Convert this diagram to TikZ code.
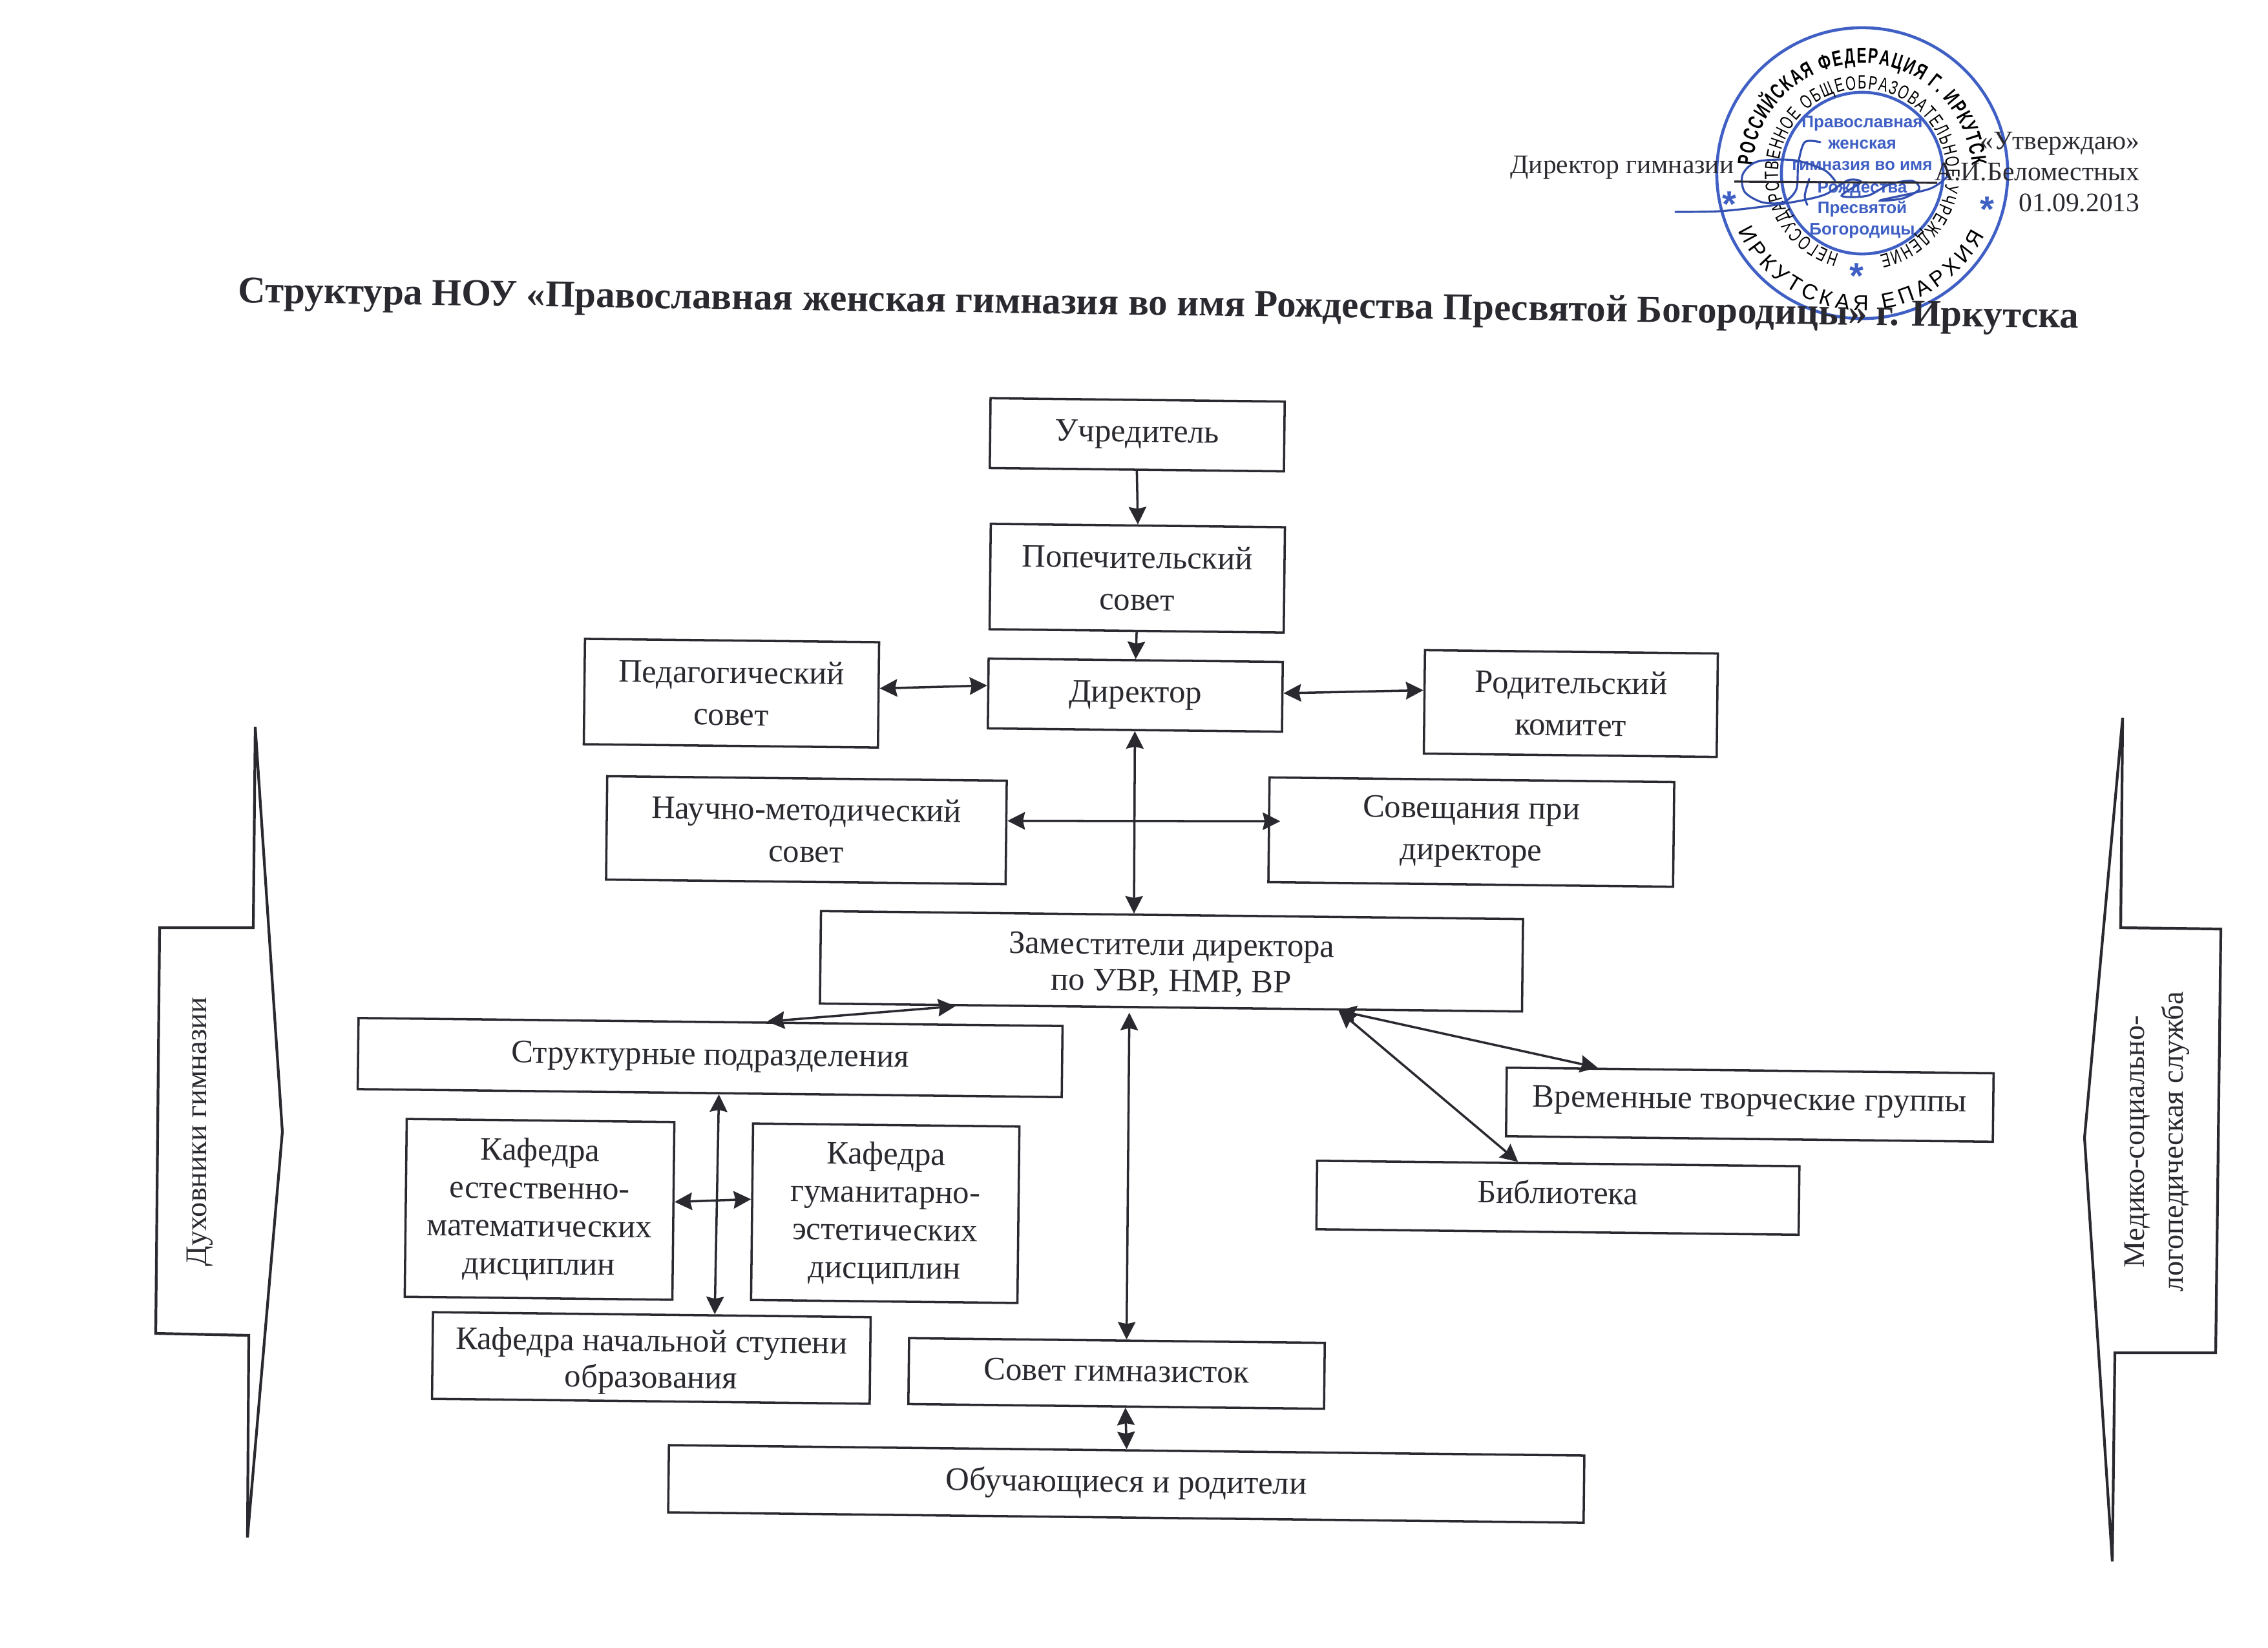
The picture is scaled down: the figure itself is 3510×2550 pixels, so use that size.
\documentclass[tikz,border=0pt]{standalone}
\usepackage{fontspec}
\setmainfont{Liberation Serif}
\newfontfamily\stampfont{Liberation Sans}
\newfontfamily\stampnarrow{Liberation Sans}[FakeStretch=0.68]
\usetikzlibrary{calc,arrows.meta,decorations.text}
\definecolor{ink}{HTML}{2B2930}
\definecolor{stampblue}{HTML}{3F5FC4}
\definecolor{signblue}{HTML}{3350B0}
\newcommand{\liftup}[1]{\rule[-#1]{0pt}{#1}}
\newcommand{\pushdown}[1]{\rule{0pt}{#1}}
\tikzset{
  box/.style={draw=ink,line width=1pt,text=ink,rotate=-0.65,align=center,inner sep=0pt,
    font=\fontsize{14.4}{18.5}\selectfont},
  tightbox/.style={box,font=\fontsize{14.4}{16}\selectfont},
  kafbox/.style={box,font=\fontsize{14.4}{16.7}\selectfont},
  link/.style={draw=ink,line width=1pt,
    {Stealth[length=0.27cm,width=0.27cm,inset=0.03cm]}-{Stealth[length=0.27cm,width=0.27cm,inset=0.03cm]}},
  onelink/.style={draw=ink,line width=1pt,-{Stealth[length=0.27cm,width=0.27cm,inset=0.03cm]}},
  sideshape/.style={draw=ink,line width=1.2pt,line join=miter},
  sidetext/.style={text=ink,align=center,inner sep=0pt,
    font=\fontsize{13.2}{17}\selectfont},
  toptext/.style={text=ink,inner sep=0pt,font=\fontsize{11.8}{14}\selectfont},
  ring/.style={draw=stampblue,line width=1.3pt},
  stamparc/.style={decorate,text=stampblue},
  stampline/.style={text=stampblue,inner sep=0pt,font=\stampfont\bfseries\fontsize{7.4}{9}\selectfont},
  stampstar/.style={text=stampblue,inner sep=0pt,font=\stampfont\bfseries\fontsize{16}{16}\selectfont},
  signature/.style={draw=signblue,line width=0.9pt,line cap=round}
}
\begin{document}
\begin{tikzpicture}[x=0.01cm,y=-0.01cm]

    \useasboundingbox (0,0) rectangle (3510,2550);

    \begin{scope}[shift={(2882,268)},x=1cm,y=1cm]

      \draw[ring] (0,0) circle (2.25);
      \draw[ring] (0,0) circle (1.25);

      \path[stamparc,decoration={text along path,text align=fit to path,
        text={|\stampnarrow\bfseries\fontsize{9.5}{10}\selectfont|РОССИЙСКАЯ ФЕДЕРАЦИЯ Г. ИРКУТСК}}]
      (176:1.7) arc[start angle=176,end angle=4,radius=1.7];

      \path[stamparc,decoration={text along path,text align=fit to path,
        text={|\stampfont\fontsize{9.5}{10}\selectfont|ИРКУТСКАЯ ЕПАРХИЯ}}]
      (205:2.12) arc[start angle=205,end angle=333,radius=2.12];

      \path[stamparc,decoration={text along path,text align=fit to path,
        text={|\stampnarrow\fontsize{8.5}{9}\selectfont|НЕГОСУДАРСТВЕННОЕ ОБЩЕОБРАЗОВАТЕЛЬНОЕ УЧРЕЖДЕНИЕ}}]
      (254:1.3) arc[start angle=254,end angle=-78,radius=1.3];

      \node[stampstar] (starleft) at (-2.05,-0.48) {*};
      \node[stampstar] (starright) at (1.93,-0.56) {*};
      \node[stampstar] (starbottom) at (-0.09,-1.59) {*};

      \node[stampline] (st1) at (0,0.77) {Православная};
      \node[stampline] (st2) at (0,0.44) {женская};
      \node[stampline] (st3) at (0,0.11) {гимназия во имя};
      \node[stampline] (st4) at (0,-0.24) {Рождества};
      \node[stampline] (st5) at (0,-0.55) {Пресвятой};
      \node[stampline] (st6) at (0,-0.89) {Богородицы};

    \end{scope}

    \draw[signature] plot[smooth] coordinates {(2593,328) (2660,327) (2727,320) (2790,310)
      (2827,300) (2860,279) (2880,282) (2850,303) (2890,303) (2925,285) (2960,280)
      (2970,293) (2945,307) (2910,310) (2987,292) (3017,270)};
    \draw[signature] plot[smooth] coordinates {(2817,220) (2793,220) (2783,253) (2780,293)
      (2760,313) (2727,313) (2700,297) (2697,270) (2720,250) (2777,248) (2823,263) (2840,280)};
    \draw[signature] plot[smooth] coordinates {(2800,277) (2793,303) (2797,317)};

    \node[toptext,anchor=base east] (utv) at (3312,231) {«Утверждаю»};
    \node[toptext,anchor=base east] (dirname) at (3312,279) {А.И.Беломестных};
    \node[toptext,anchor=base east] (datum) at (3312,327) {01.09.2013};
    \node[toptext,anchor=base east] (dirpost) at (2684,268) {Директор гимназии};
    \draw[draw=ink,line width=0.9pt] (dirpost.base east) ++(0,13) -- ++(314,2);

    \node[text=ink,inner sep=0pt,rotate=-0.8,font=\bfseries\fontsize{16.7}{20}\selectfont] (title)
    at (1793,474) {Структура НОУ «Православная женская гимназия во имя Рождества Пресвятой Богородицы» г. Иркутска};

    \node[box,minimum width=4.55cm,minimum height=1.08cm] (uchred) at (1760,673) {Учредитель};
    \node[box,minimum width=4.55cm,minimum height=1.63cm] (popech) at (1760,895) {Попечительский\\совет};
    \node[box,minimum width=4.55cm,minimum height=1.08cm] (direktor) at (1757,1076) {Директор};
    \node[box,minimum width=4.55cm,minimum height=1.63cm] (pedsovet) at (1132,1073) {Педагогический\\совет};
    \node[box,minimum width=4.53cm,minimum height=1.60cm] (roditel) at (2431,1089) {Родительский\\комитет};
    \node[box,minimum width=6.18cm,minimum height=1.60cm] (nauchno) at (1248,1285) {Научно-методический\\совет};
    \node[box,minimum width=6.26cm,minimum height=1.62cm] (soveshch) at (2277,1288) {Совещания при\\директоре};
    \node[tightbox,minimum width=10.86cm,minimum height=1.43cm] (zam) at (1813,1488) {\pushdown{0.45cm}Заместители директора\\по УВР, НМР, ВР};
    \node[box,minimum width=10.89cm,minimum height=1.10cm] (struct) at (1099,1637) {Структурные подразделения};
    \node[kafbox,minimum width=4.14cm,minimum height=2.75cm] (kafest) at (835,1872) {Кафедра\\естественно-\\математических\\дисциплин};
    \node[kafbox,minimum width=4.12cm,minimum height=2.73cm] (kafgum) at (1370,1878) {Кафедра\\гуманитарно-\\эстетических\\дисциплин};
    \node[tightbox,minimum width=6.77cm,minimum height=1.34cm] (kafnach) at (1008,2102) {\pushdown{0.47cm}Кафедра начальной ступени\\образования};
    \node[box,minimum width=6.43cm,minimum height=1.02cm] (sovet) at (1728,2126) {\liftup{0.09cm}Совет гимназисток};
    \node[box,minimum width=14.16cm,minimum height=1.04cm] (obuch) at (1743,2297) {Обучающиеся и родители};
    \node[box,minimum width=7.53cm,minimum height=1.06cm] (vremen) at (2708,1710) {\liftup{0.19cm}Временные творческие группы};
    \node[box,minimum width=7.46cm,minimum height=1.06cm] (biblio) at (2411,1854) {\liftup{0.18cm}Библиотека};

    \draw[onelink] (uchred.south) -- (popech.north);
    \draw[onelink] (popech.south) -- (direktor.north);
    \draw[link] ($(pedsovet.north east)!.44!(pedsovet.south east)$) -- ($(direktor.north west)!.39!(direktor.south west)$);
    \draw[link] ($(direktor.north east)!.45!(direktor.south east)$) -- ($(roditel.north west)!.39!(roditel.south west)$);
    \draw[link] (direktor.south) -- ($(zam.north west)!.446!(zam.north east)$);
    \draw[link,shorten >=-0.19cm] ($(nauchno.north east)!.39!(nauchno.south east)$) -- ($(soveshch.north west)!.42!(soveshch.south west)$);
    \draw[link] ($(zam.south west)!.194!(zam.south east)$) -- ($(struct.north west)!.58!(struct.north east)$);
    \draw[link,shorten <=0.07cm] ($(zam.south west)!.441!(zam.south east)$) -- ($(sovet.north west)!.523!(sovet.north east)$);
    \draw[link] ($(zam.south west)!.738!(zam.south east)$) -- ($(vremen.north west)!.188!(vremen.north east)$);
    \draw[link] ($(zam.south west)!.738!(zam.south east)$) -- ($(biblio.north west)!.417!(biblio.north east)$);
    \draw[link] ($(struct.south west)!.513!(struct.south east)$) -- ($(kafnach.north west)!.643!(kafnach.north east)$);
    \draw[link] ($(kafest.north east)!.45!(kafest.south east)$) -- ($(kafgum.north west)!.43!(kafgum.south west)$);
    \draw[link] ($(sovet.south west)!.522!(sovet.south east)$) -- (obuch.north);

    \draw[sideshape] (395,1125) -- (392,1436) -- (247,1436) -- (241,2064) -- (385,2067)
    -- (383,2380) -- (437,1752) -- cycle;
    \node[sidetext,rotate=90] (duhovniki) at (309,1752) {Духовники гимназии};

    \draw[sideshape] (3285,1111) -- (3282,1436) -- (3437,1438) -- (3429,2094) -- (3273,2094)
    -- (3269,2417) -- (3226,1761) -- cycle;
    \node[sidetext,rotate=90] (medsluzhba) at (3338,1767) {Медико-социально-\\логопедическая служба};

\end{tikzpicture}
\end{document}
